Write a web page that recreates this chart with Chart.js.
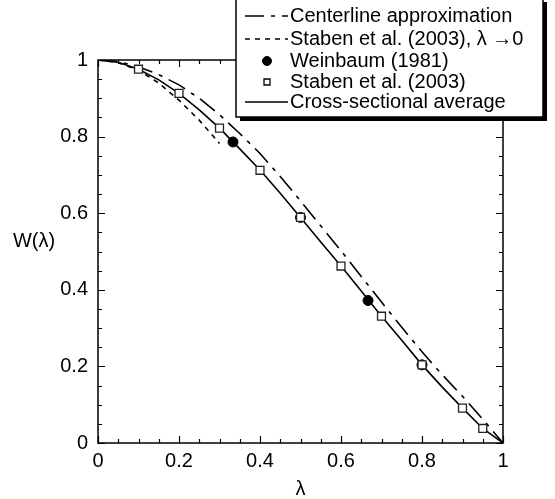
<!DOCTYPE html>
<html>
<head>
<meta charset="utf-8">
<script src="https://cdn.jsdelivr.net/npm/chart.js@4/dist/chart.umd.min.js"></script>
<style>
  html, body { margin: 0; padding: 0; background: #fff; }
  #wrap { width: 555px; height: 499px; position: relative; }
</style>
</head>
<body>
<div id="wrap"><canvas id="grafico"></canvas></div>
<script>
// datos
const lambdaSolid = [0, 0.05, 0.1, 0.15, 0.2, 0.25, 0.3, 0.35, 0.4, 0.45, 0.5, 0.55, 0.6, 0.65, 0.7, 0.75, 0.8, 0.85, 0.9, 0.95, 1];
const wSolid = [1, 0.994, 0.976, 0.948, 0.913, 0.870, 0.822, 0.768, 0.713, 0.652, 0.589, 0.525, 0.462, 0.397, 0.331, 0.268, 0.204, 0.146, 0.091, 0.038, 0];

const lambdaCenter = [0, 0.05, 0.1, 0.15, 0.2, 0.25, 0.3, 0.35, 0.4, 0.45, 0.5, 0.55, 0.6, 0.65, 0.7, 0.75, 0.8, 0.85, 0.9, 0.95, 1];
const wCenter = [1, 0.996, 0.982, 0.962, 0.935, 0.900, 0.857, 0.808, 0.756, 0.696, 0.632, 0.567, 0.502, 0.435, 0.368, 0.302, 0.238, 0.178, 0.122, 0.062, 0];

const lambdaSmall = [0, 0.05, 0.1, 0.15, 0.2, 0.25, 0.3];
const wSmall = [1, 0.993, 0.973, 0.940, 0.895, 0.843, 0.782];

const lambdaWeinbaum = [0.3333, 0.5, 0.6667, 0.8];
const wWeinbaum = [0.786, 0.589, 0.372, 0.204];

const lambdaStaben = [0.1, 0.2, 0.3, 0.4, 0.5, 0.6, 0.7, 0.8, 0.9, 0.95];
const wStaben = [0.976, 0.913, 0.822, 0.712, 0.589, 0.462, 0.331, 0.204, 0.091, 0.038];

const xTicks = [0, 0.2, 0.4, 0.6, 0.8, 1];
const yTicks = [0, 0.2, 0.4, 0.6, 0.8, 1];

const FONT = 'Liberation Sans, Arial, Helvetica, sans-serif';
const pts = (xs, ys) => xs.map((x, i) => ({ x: x, y: ys[i] }));
const esMayor = (v, lista) => lista.some(t => Math.abs(t - v) < 1e-6);

// marco + marcas hacia adentro en los cuatro lados
const marcoPlugin = {
    id: 'marco',
    beforeDatasetsDraw(chart) {
        const { ctx, chartArea: a, scales } = chart;
        ctx.save();
        ctx.strokeStyle = '#000';
        ctx.lineWidth = 1.5;
        ctx.strokeRect(a.left, a.top, a.right - a.left, a.bottom - a.top);
        ctx.lineWidth = 1.2;
        ctx.beginPath();
        scales.x.ticks.forEach(t => {
            const px = Math.round(scales.x.getPixelForValue(t.value)) + 0.5;
            const len = esMayor(t.value, xTicks) ? 7 : 4;
            ctx.moveTo(px, a.bottom); ctx.lineTo(px, a.bottom - len);
            ctx.moveTo(px, a.top); ctx.lineTo(px, a.top + len);
        });
        scales.y.ticks.forEach(t => {
            const py = Math.round(scales.y.getPixelForValue(t.value)) + 0.5;
            const len = esMayor(t.value, yTicks) ? 7 : 4;
            ctx.moveTo(a.left, py); ctx.lineTo(a.left + len, py);
            ctx.moveTo(a.right, py); ctx.lineTo(a.right - len, py);
        });
        ctx.stroke();
        ctx.restore();
    },
    afterDraw(chart) {
        const { ctx } = chart;
        ctx.save();
        // etiqueta del eje y (horizontal)
        ctx.fillStyle = '#000';
        ctx.font = '20px ' + FONT;
        ctx.textAlign = 'center';
        ctx.textBaseline = 'middle';
        ctx.fillText('W(\u03bb)', 34, 241);

        // leyenda con sombra
        const bx = 236, by = -2, bw = 307, bh = 119;
        ctx.fillStyle = '#000';
        ctx.fillRect(bx + 4, by + 4, bw, bh);
        ctx.fillStyle = '#fff';
        ctx.fillRect(bx, by, bw, bh);
        ctx.lineWidth = 1.5;
        ctx.strokeStyle = '#000';
        ctx.strokeRect(bx, by, bw, bh);

        const filas = [16, 39, 61, 82, 102];
        chart.data.datasets.forEach((ds, i) => {
            const y = filas[i];
            ctx.strokeStyle = '#000';
            if (ds.showLine) {
                ctx.lineWidth = ds.borderWidth;
                ctx.setLineDash(ds.borderDash || []);
                ctx.beginPath();
                ctx.moveTo(245, y); ctx.lineTo(288, y);
                ctx.stroke();
                ctx.setLineDash([]);
            } else {
                ctx.lineWidth = ds.pointBorderWidth;
                ctx.fillStyle = ds.pointBackgroundColor;
                ctx.beginPath();
                if (ds.pointStyle === 'rect') {
                    ctx.rect(264, y - 3, 6, 6);
                } else {
                    ctx.arc(267, y, 4.5, 0, Math.PI * 2);
                }
                ctx.fill();
                ctx.stroke();
            }
            ctx.fillStyle = '#000';
            ctx.font = '20px ' + FONT;
            ctx.textAlign = 'left';
            ctx.fillText(ds.label, 290, y);
        });
        ctx.restore();
    }
};

const ctx = document.getElementById('grafico').getContext('2d');
const chart = new Chart(ctx, {
    type: 'scatter',
    data: {
        datasets: [
            { label: 'Centerline approximation', data: pts(lambdaCenter, wCenter), showLine: true, borderColor: '#000', borderWidth: 1.6, borderDash: [19, 7, 4, 7], pointRadius: 0, order: 4 },
            { label: 'Staben et al. (2003), \u03bb \u21920', data: pts(lambdaSmall, wSmall), showLine: true, borderColor: '#000', borderWidth: 1.6, borderDash: [5, 5], pointRadius: 0, order: 3 },
            { label: 'Weinbaum (1981)', data: pts(lambdaWeinbaum, wWeinbaum), showLine: false, pointStyle: 'circle', pointRadius: 5, pointBackgroundColor: '#000', pointBorderColor: '#000', pointBorderWidth: 1, order: 1 },
            { label: 'Staben et al. (2003)', data: pts(lambdaStaben, wStaben), showLine: false, pointStyle: 'rect', pointRadius: 5.6, pointBackgroundColor: '#fff', pointBorderColor: '#222', pointBorderWidth: 1.3, order: 0 },
            { label: 'Cross-sectional average', data: pts(lambdaSolid, wSolid), showLine: true, borderColor: '#000', borderWidth: 1.6, pointRadius: 0, order: 2 }
        ]
    },
    options: {
        responsive: true,
        maintainAspectRatio: false,
        animation: false,
        layout: { padding: { left: 0, right: 52, top: 60, bottom: 0 } },
        plugins: { legend: { display: false }, tooltip: { enabled: false } },
        scales: {
            x: {
                type: 'linear', min: 0, max: 1,
                afterFit: s => { s.height = 56; },
                border: { display: false },
                grid: { display: false, drawTicks: false },
                ticks: {
                    stepSize: 0.05, padding: 6, color: '#000', maxRotation: 0, autoSkip: false,
                    font: { family: FONT, size: 20 },
                    callback: v => esMayor(v, xTicks) ? String(+v.toFixed(1)) : ''
                },
                title: { display: true, text: '\u03bb', color: '#000', font: { family: FONT, size: 20, lineHeight: 1 }, padding: { top: 0, bottom: 0 } }
            },
            y: {
                type: 'linear', min: 0, max: 1,
                afterFit: s => { s.width = 98; },
                border: { display: false },
                grid: { display: false, drawTicks: false },
                ticks: {
                    stepSize: 0.05, padding: 10, color: '#000', autoSkip: false,
                    font: { family: FONT, size: 20 },
                    callback: v => esMayor(v, yTicks) ? String(+v.toFixed(1)) : ''
                }
            }
        }
    },
    plugins: [marcoPlugin]
});
</script>
</body>
</html>
